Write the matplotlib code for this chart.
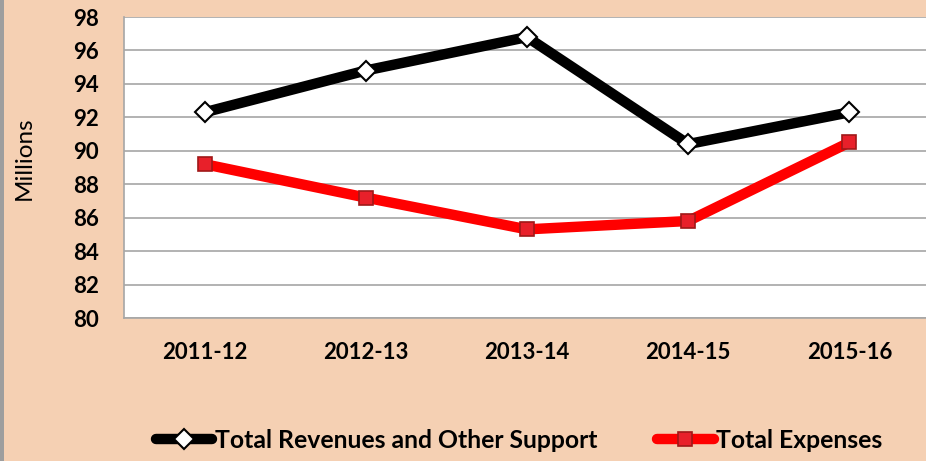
import matplotlib.pyplot as plt
from matplotlib.patches import Rectangle

years = ["2011-12", "2012-13", "2013-14", "2014-15", "2015-16"]
revenues = [92.3, 94.8, 96.8, 90.4, 92.3]
expenses = [89.2, 87.2, 85.3, 85.8, 90.5]
yticks = [80, 82, 84, 86, 88, 90, 92, 94, 96, 98]

peach = "#F5D0B3"
plt.rcParams['font.family'] = ['Lato', 'DejaVu Sans']

fig = plt.figure(figsize=(9.26, 4.61), dpi=100, facecolor=peach)
ax = fig.add_axes([124/926, 1-318/461, 806/926, 301/461])
ax.set_facecolor("white")

x = range(len(years))
ax.plot(x, revenues, "-", color="black", lw=7.5, marker="D", ms=10,
        mfc="white", mec="black", mew=1.5, solid_capstyle="round",
        label="Total Revenues and Other Support", zorder=3)
ax.plot(x, expenses, "-", color="#FF0000", lw=7.5, marker="s", ms=10,
        mfc="#E8202A", mec="#A01818", mew=1.2, solid_capstyle="round",
        label="Total Expenses", zorder=3)

ax.set_xlim(-0.5, 4.5)
ax.set_ylim(80, 98)
ax.set_yticks(yticks)
ax.set_xticks(list(x))
ax.set_xticklabels(years)
ax.grid(axis="y", color="#A6A6A6", lw=1.2)
ax.set_axisbelow(True)
for s in ["top", "right"]:
    ax.spines[s].set_visible(False)
for s in ["left", "bottom"]:
    ax.spines[s].set_color("#A6A6A6")
    ax.spines[s].set_linewidth(1.2)
ax.tick_params(axis="both", length=0, labelsize=16)
ax.tick_params(axis="y", pad=18)
ax.tick_params(axis="x", pad=17)
for lbl in ax.get_xticklabels() + ax.get_yticklabels():
    lbl.set_fontweight("bold")

fig.text(24/926, 1-158/461, "Millions", rotation=90, fontsize=17.5,
         ha="center", va="center")

fig.legend(loc="center", bbox_to_anchor=(519/926, 1-440/461), ncol=2,
           frameon=False, handlelength=2.3, handletextpad=0.1,
           columnspacing=2.4, prop={"weight": "bold", "size": 17.8})

# thin gray edge on the left side
fig.patches.append(Rectangle((0, 0), 4/926, 1, transform=fig.transFigure,
                             facecolor="#9E9E9E", edgecolor="none"))

fig.savefig("out.png", dpi=100, facecolor=peach)
